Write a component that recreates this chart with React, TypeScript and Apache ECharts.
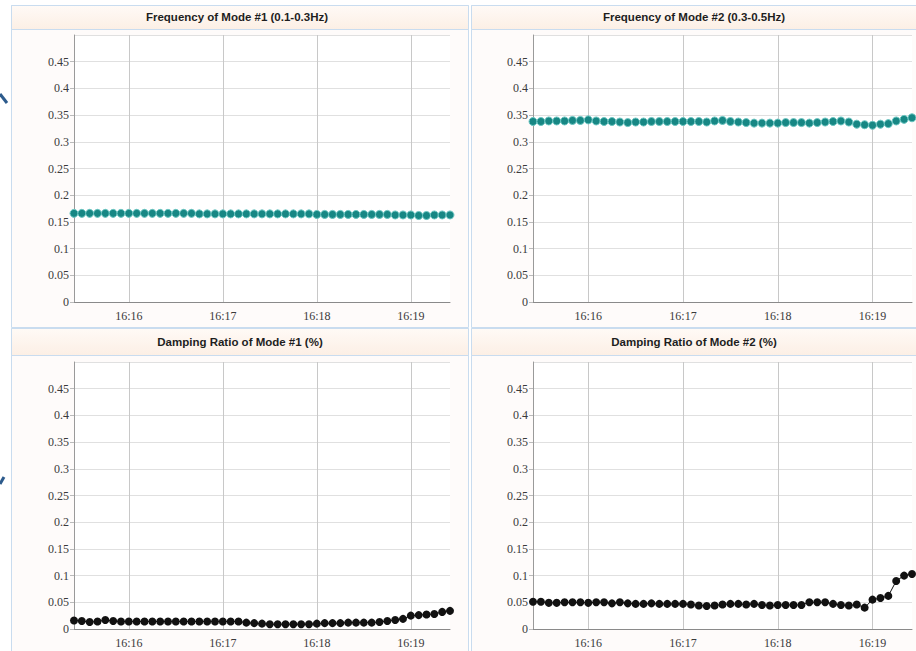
import React, { useEffect, useRef } from "react";
import * as echarts from "echarts";

const times = [
  "16:15:25", "16:15:30", "16:15:35", "16:15:40", "16:15:45", "16:15:50", "16:15:55",
  "16:16:00", "16:16:05", "16:16:10", "16:16:15", "16:16:20", "16:16:25", "16:16:30",
  "16:16:35", "16:16:40", "16:16:45", "16:16:50", "16:16:55",
  "16:17:00", "16:17:05", "16:17:10", "16:17:15", "16:17:20", "16:17:25", "16:17:30",
  "16:17:35", "16:17:40", "16:17:45", "16:17:50", "16:17:55",
  "16:18:00", "16:18:05", "16:18:10", "16:18:15", "16:18:20", "16:18:25", "16:18:30",
  "16:18:35", "16:18:40", "16:18:45", "16:18:50", "16:18:55",
  "16:19:00", "16:19:05", "16:19:10", "16:19:15", "16:19:20", "16:19:25",
];

const titles = [
  "Frequency of Mode #1 (0.1-0.3Hz)",
  "Frequency of Mode #2 (0.3-0.5Hz)",
  "Damping Ratio of Mode #1 (%)",
  "Damping Ratio of Mode #2 (%)",
];

const yTicks = [0, 0.05, 0.1, 0.15, 0.2, 0.25, 0.3, 0.35, 0.4, 0.45];

const freqMode1 = [
  0.166, 0.166, 0.166, 0.166, 0.166, 0.166, 0.166, 0.166, 0.166, 0.166,
  0.166, 0.166, 0.166, 0.166, 0.166, 0.166, 0.165, 0.165, 0.165, 0.165,
  0.165, 0.165, 0.165, 0.165, 0.165, 0.165, 0.165, 0.165, 0.165, 0.165,
  0.165, 0.164, 0.164, 0.164, 0.164, 0.164, 0.164, 0.164, 0.164, 0.164,
  0.164, 0.163, 0.163, 0.163, 0.162, 0.162, 0.163, 0.163, 0.163,
];

const freqMode2 = [
  0.338, 0.338, 0.339, 0.339, 0.339, 0.340, 0.340, 0.341, 0.339, 0.338,
  0.338, 0.337, 0.336, 0.337, 0.337, 0.338, 0.338, 0.338, 0.338, 0.338,
  0.338, 0.338, 0.337, 0.339, 0.340, 0.338, 0.337, 0.336, 0.335, 0.335,
  0.335, 0.335, 0.336, 0.336, 0.336, 0.335, 0.336, 0.337, 0.338, 0.339,
  0.337, 0.333, 0.332, 0.331, 0.333, 0.334, 0.339, 0.342, 0.345,
];

const dampMode1 = [
  0.016, 0.015, 0.013, 0.014, 0.017, 0.015, 0.014, 0.014, 0.014, 0.014,
  0.014, 0.014, 0.014, 0.014, 0.014, 0.014, 0.014, 0.014, 0.014, 0.014,
  0.014, 0.014, 0.012, 0.011, 0.010, 0.009, 0.009, 0.009, 0.009, 0.009,
  0.009, 0.010, 0.011, 0.011, 0.011, 0.012, 0.012, 0.012, 0.012, 0.013,
  0.015, 0.017, 0.019, 0.025, 0.026, 0.027, 0.028, 0.032, 0.034,
];

const dampMode2 = [
  0.051, 0.051, 0.049, 0.049, 0.050, 0.050, 0.050, 0.049, 0.050, 0.050,
  0.048, 0.050, 0.048, 0.047, 0.047, 0.048, 0.047, 0.047, 0.047, 0.047,
  0.046, 0.044, 0.043, 0.044, 0.046, 0.047, 0.047, 0.046, 0.047, 0.045,
  0.044, 0.045, 0.045, 0.045, 0.045, 0.050, 0.050, 0.050, 0.047, 0.045,
  0.044, 0.046, 0.040, 0.055, 0.058, 0.062, 0.090, 0.100, 0.103,
];

const seriesData = [freqMode1, freqMode2, dampMode1, dampMode2];
const seriesColors = ["#178784", "#178784", "#111111", "#111111"];

export default function App() {
  const ref = useRef<HTMLDivElement>(null);

  useEffect(() => {
    if (!ref.current) return;
    const chart = echarts.init(ref.current, null, { renderer: "svg" });

    const grids = [
      { left: 74, top: 35, width: 376, height: 267 },
      { left: 533, top: 35, width: 379, height: 267 },
      { left: 74, top: 362, width: 376, height: 267 },
      { left: 533, top: 362, width: 379, height: 267 },
    ];
    const isMinute = (_i: number, v: string) => String(v).endsWith(":00");
    const serif = "Liberation Serif";

    const titlePos = [
      [237, 17],
      [694, 17],
      [240, 342],
      [694, 342],
    ];

    const bgStroke = "#c9dcef";
    const headerFill = new echarts.graphic.LinearGradient(0, 0, 0, 1, [
      { offset: 0, color: "#fffaf6" },
      { offset: 1, color: "#fcefe5" },
    ]);

    const panelRects = [
      { x: 11, y: 5, w: 457, h: 322 },
      { x: 471, y: 5, w: 450, h: 322 },
      { x: 11, y: 328, w: 457, h: 330 },
      { x: 471, y: 328, w: 450, h: 330 },
    ];
    const headerRects = [
      { x: 11, y: 5, w: 457, h: 24 },
      { x: 471, y: 5, w: 450, h: 24 },
      { x: 11, y: 328, w: 457, h: 27 },
      { x: 471, y: 328, w: 450, h: 27 },
    ];

    const graphics: any[] = [];
    panelRects.forEach((r) =>
      graphics.push({
        type: "rect",
        z: -10,
        silent: true,
        shape: { x: r.x + 0.5, y: r.y + 0.5, width: r.w, height: r.h },
        style: { fill: "#fefbfa", stroke: bgStroke, lineWidth: 1 },
      })
    );
    headerRects.forEach((r) =>
      graphics.push({
        type: "rect",
        z: -9,
        silent: true,
        shape: { x: r.x + 0.5, y: r.y + 0.5, width: r.w, height: r.h },
        style: { fill: headerFill, stroke: bgStroke, lineWidth: 1 },
      })
    );
    titles.forEach((t, i) =>
      graphics.push({
        type: "text",
        z: 10,
        x: titlePos[i][0],
        y: titlePos[i][1],
        style: {
          text: t,
          fill: "#1e1e1e",
          font: "bold 11.5px 'Liberation Sans', Arial, sans-serif",
          textAlign: "center",
          textVerticalAlign: "middle",
          verticalAlign: "middle",
        },
      })
    );
    graphics.push({
      type: "line",
      z: 10,
      silent: true,
      shape: { x1: 0, y1: 94, x2: 7, y2: 103 },
      style: { stroke: "#2d5b8c", lineWidth: 3 },
    });
    graphics.push({
      type: "line",
      z: 10,
      silent: true,
      shape: { x1: 0, y1: 484, x2: 4, y2: 477 },
      style: { stroke: "#2d5b8c", lineWidth: 3 },
    });

    const option: any = {
      animation: false,
      backgroundColor: "#ffffff",
      graphic: { elements: graphics },
      grid: grids.map((g) => ({
        ...g,
        show: true,
        backgroundColor: "#ffffff",
        borderWidth: 0,
        containLabel: false,
      })),
      xAxis: grids.map((_g, i) => ({
        type: "category",
        gridIndex: i,
        data: times,
        boundaryGap: false,
        axisLine: { show: true, lineStyle: { color: "#8a8a8a", width: 1 } },
        axisTick: { show: false },
        axisLabel: {
          interval: isMinute,
          formatter: (v: string) => v.slice(0, 5),
          fontFamily: serif,
          fontSize: 12,
          color: "#3a3a3a",
          margin: 8,
        },
        splitLine: {
          show: true,
          interval: isMinute,
          lineStyle: { color: "#c8c8c8", width: 1 },
        },
      })),
      yAxis: grids.map((_g, i) => ({
        type: "value",
        gridIndex: i,
        min: yTicks[0],
        max: 0.5,
        interval: yTicks[1] - yTicks[0],
        axisLine: { show: true, lineStyle: { color: "#9a9a9a", width: 1 } },
        axisTick: { show: true, length: 4, lineStyle: { color: "#bbbbbb" } },
        axisLabel: {
          showMaxLabel: false,
          fontFamily: serif,
          fontSize: 12,
          color: "#3a3a3a",
          margin: 5,
        },
        splitLine: { show: true, lineStyle: { color: "#e0e0e0", width: 1 } },
      })),
      series: seriesData.map((d, i) => ({
        type: "line",
        xAxisIndex: i,
        yAxisIndex: i,
        data: d,
        symbol: "circle",
        symbolSize: 8,
        showSymbol: true,
        showAllSymbol: true,
        lineStyle: { color: seriesColors[i], width: 1 },
        itemStyle: {
          color: seriesColors[i],
          borderColor: i < 2 ? "#6cc6c2" : "#111111",
          borderWidth: i < 2 ? 1 : 0,
        },
        z: 3,
      })),
    };

    chart.setOption(option);
    return () => chart.dispose();
  }, []);

  return (
    <div
      ref={ref}
      style={{ position: "fixed", left: 0, top: 0, width: 916, height: 651 }}
    />
  );
}
